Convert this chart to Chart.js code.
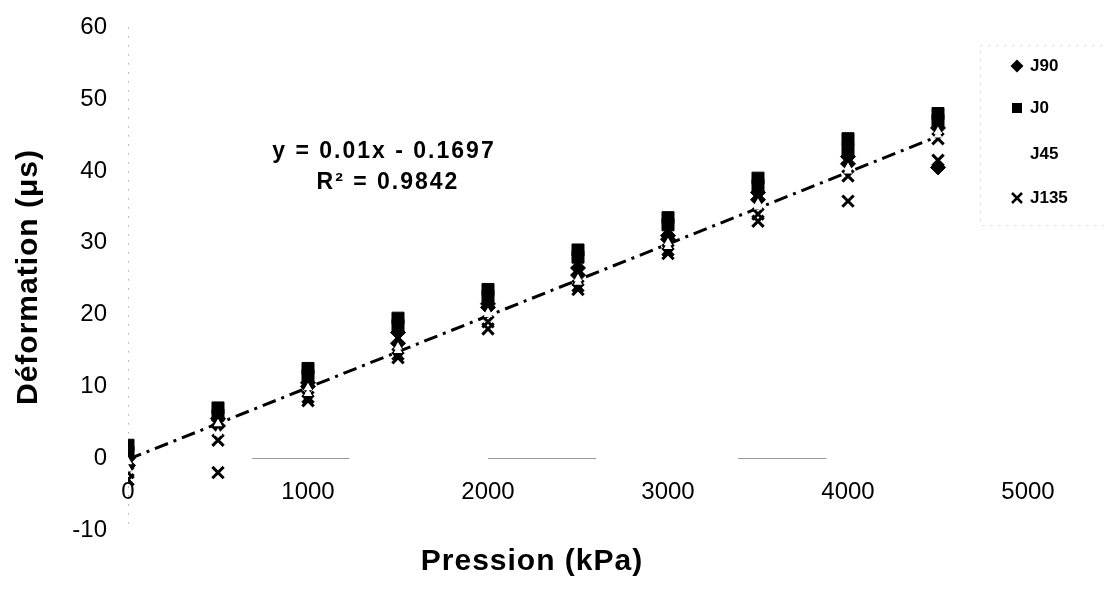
<!DOCTYPE html>
<html>
<head>
<meta charset="utf-8">
<script src="https://cdn.jsdelivr.net/npm/chart.js@4/dist/chart.umd.min.js"></script>
<style>
  body { margin: 0; background: #fff; }
  #wrap { width: 1104px; height: 592px; position: relative; }
</style>
</head>
<body>
<div id="wrap"><canvas id="chart"></canvas></div>
<script>
// pressures (kPa) and the readings of each gauge, two per pressure
const pressures = [0, 500, 1000, 1500, 2000, 2500, 3000, 3500, 4000, 4500];
const j90 = [[0, -1], [5.5, 4.5], [10.5, 10], [17.5, 16], [21.5, 21], [26.5, 25.5], [31, 30.5], [37, 36], [42, 41], [46, 40.5]];
const j0 = [[1.8, 0.8], [7, 6], [12.5, 11.5], [19.5, 18.5], [23.5, 22.5], [29, 28], [33.5, 32.5], [39, 38], [44.5, 43], [48, 47]];
const j45 = [[-0.5, -1.5], [4.8, 3.5], [9.8, 9], [15.5, 15], [20.3, 20], [25, 24.5], [30, 29.5], [35.5, 35], [40.5, 40], [45.5, 45]];
const j135 = [[-2, -3], [2.5, -2], [8.5, 8], [14.5, 14], [19, 18], [24, 23.5], [29, 28.5], [34, 33], [39.3, 35.8], [44.5, 41.5]];

// linear trend shown on the chart
const slope = 0.01;
const intercept = -0.1697;
const trendX = [0, 4500];

const xTicks = [0, 1000, 2000, 3000, 4000, 5000];
const yTicks = [-10, 0, 10, 20, 30, 40, 50, 60];

// pieces of the x axis line that survived in the scan (kPa)
const xAxisPieces = [[690, 1230], [2000, 2600], [3390, 3880]];

const FONT = "'Liberation Sans', Arial, sans-serif";

const toPoints = (vals) => {
  const pts = [];
  pressures.forEach((p, i) => vals[i].forEach(v => pts.push({ x: p, y: v })));
  return pts;
};

const series = [
  { label: 'J90', data: j90, style: 'rectRot', radius: 7.5, fill: '#000', border: '#000', width: 1, order: 3 },
  { label: 'J0', data: j0, style: 'rect', radius: 8.5, fill: '#000', border: '#000', width: 1, order: 2 },
  { label: 'J45', data: j45, style: 'triangle', radius: 5, fill: '#fff', border: '#fff', width: 0, order: 0 },
  { label: 'J135', data: j135, style: 'crossRot', radius: 8, fill: '#000', border: '#000', width: 3, order: 1 }
];

const datasets = series.map(s => ({
  type: 'scatter',
  label: s.label,
  data: toPoints(s.data),
  pointStyle: s.style,
  pointRadius: s.radius,
  backgroundColor: s.fill,
  borderColor: s.border,
  borderWidth: s.width,
  order: s.order
}));

datasets.push({
  type: 'line',
  label: 'trend',
  data: trendX.map(x => ({ x: x, y: slope * x + intercept })),
  borderColor: '#000',
  borderWidth: 3,
  borderDash: [14, 6, 3, 6],
  pointRadius: 0,
  fill: false,
  order: 4
});

// faint axis lines, like the scan
const axisLines = {
  id: 'axisLines',
  beforeDatasetsDraw(chart) {
    const ctx = chart.ctx;
    const { x, y } = chart.scales;
    const x0 = Math.round(x.getPixelForValue(0)) + 0.5;
    const y0 = Math.round(y.getPixelForValue(0)) + 0.5;
    ctx.save();
    ctx.lineWidth = 1;
    ctx.strokeStyle = '#888';
    ctx.setLineDash([1, 8]);
    ctx.beginPath();
    ctx.moveTo(x0, y.top);
    ctx.lineTo(x0, y.bottom);
    ctx.stroke();
    ctx.setLineDash([]);
    ctx.strokeStyle = '#999';
    ctx.beginPath();
    xAxisPieces.forEach(([a, b]) => {
      ctx.moveTo(x.getPixelForValue(a), y0);
      ctx.lineTo(x.getPixelForValue(b), y0);
    });
    ctx.stroke();
    ctx.restore();
  }
};

// texts and legend drawn on top of the plot
const extras = {
  id: 'extras',
  afterDraw(chart) {
    const ctx = chart.ctx;
    ctx.save();
    ctx.fillStyle = '#000';
    ctx.textAlign = 'center';
    ctx.textBaseline = 'middle';

    ctx.letterSpacing = '2px';
    ctx.font = 'bold 23px ' + FONT;
    ctx.fillText('y = 0.01x - 0.1697', 384, 152);
    ctx.fillText('R\u00B2 = 0.9842', 388, 183);

    ctx.letterSpacing = '1px';
    ctx.font = 'bold 30px ' + FONT;
    ctx.fillText('Pression (kPa)', 532, 562);

    ctx.save();
    ctx.translate(29, 277);
    ctx.rotate(-Math.PI / 2);
    ctx.fillText('Déformation (μs)', 0, 0);
    ctx.restore();
    ctx.letterSpacing = '0px';

    // legend frame, faded like the scan
    ctx.strokeStyle = '#d8d8d8';
    ctx.lineWidth = 1;
    ctx.setLineDash([2, 6]);
    ctx.strokeRect(980.5, 45.5, 140, 180);
    ctx.setLineDash([]);

    const items = [
      { label: 'J90', y: 66 },
      { label: 'J0', y: 108 },
      { label: 'J45', y: 154 },
      { label: 'J135', y: 198 }
    ];
    const mx = 1017;
    ctx.textAlign = 'left';
    ctx.font = 'bold 17px ' + FONT;
    items.forEach(it => {
      const y = it.y;
      ctx.fillStyle = '#000';
      ctx.strokeStyle = '#000';
      if (it.label === 'J90') {
        ctx.beginPath();
        ctx.moveTo(mx, y - 6.5); ctx.lineTo(mx + 6.5, y); ctx.lineTo(mx, y + 6.5); ctx.lineTo(mx - 6.5, y);
        ctx.closePath(); ctx.fill();
      } else if (it.label === 'J0') {
        ctx.fillRect(mx - 5, y - 5, 10, 10);
      } else if (it.label === 'J135') {
        ctx.lineWidth = 2.5;
        ctx.beginPath();
        ctx.moveTo(mx - 5, y - 5); ctx.lineTo(mx + 5, y + 5);
        ctx.moveTo(mx + 5, y - 5); ctx.lineTo(mx - 5, y + 5);
        ctx.stroke();
      }
      ctx.fillText(it.label, 1030, y);
    });
    ctx.restore();
  }
};

new Chart(document.getElementById('chart').getContext('2d'), {
  data: { datasets: datasets },
  options: {
    responsive: true,
    maintainAspectRatio: false,
    animation: false,
    layout: { padding: { top: 22, bottom: 62, right: 76, left: 0 } },
    plugins: {
      legend: { display: false },
      tooltip: { enabled: false }
    },
    scales: {
      x: {
        type: 'linear',
        position: { y: 0 },
        min: 0,
        max: 5000,
        afterBuildTicks: s => { s.ticks = xTicks.map(v => ({ value: v })); },
        grid: { display: false },
        border: { display: false },
        ticks: { color: '#000', padding: 12, font: { family: FONT, size: 24 }, callback: v => String(v) }
      },
      y: {
        type: 'linear',
        position: 'left',
        min: -10,
        max: 60,
        afterBuildTicks: s => { s.ticks = yTicks.map(v => ({ value: v })); },
        afterFit: s => { s.width = 128; },
        grid: { display: false },
        border: { display: false },
        ticks: { color: '#000', padding: 13, font: { family: FONT, size: 24 }, callback: v => String(v) }
      }
    }
  },
  plugins: [axisLines, extras]
});
</script>
</body>
</html>
